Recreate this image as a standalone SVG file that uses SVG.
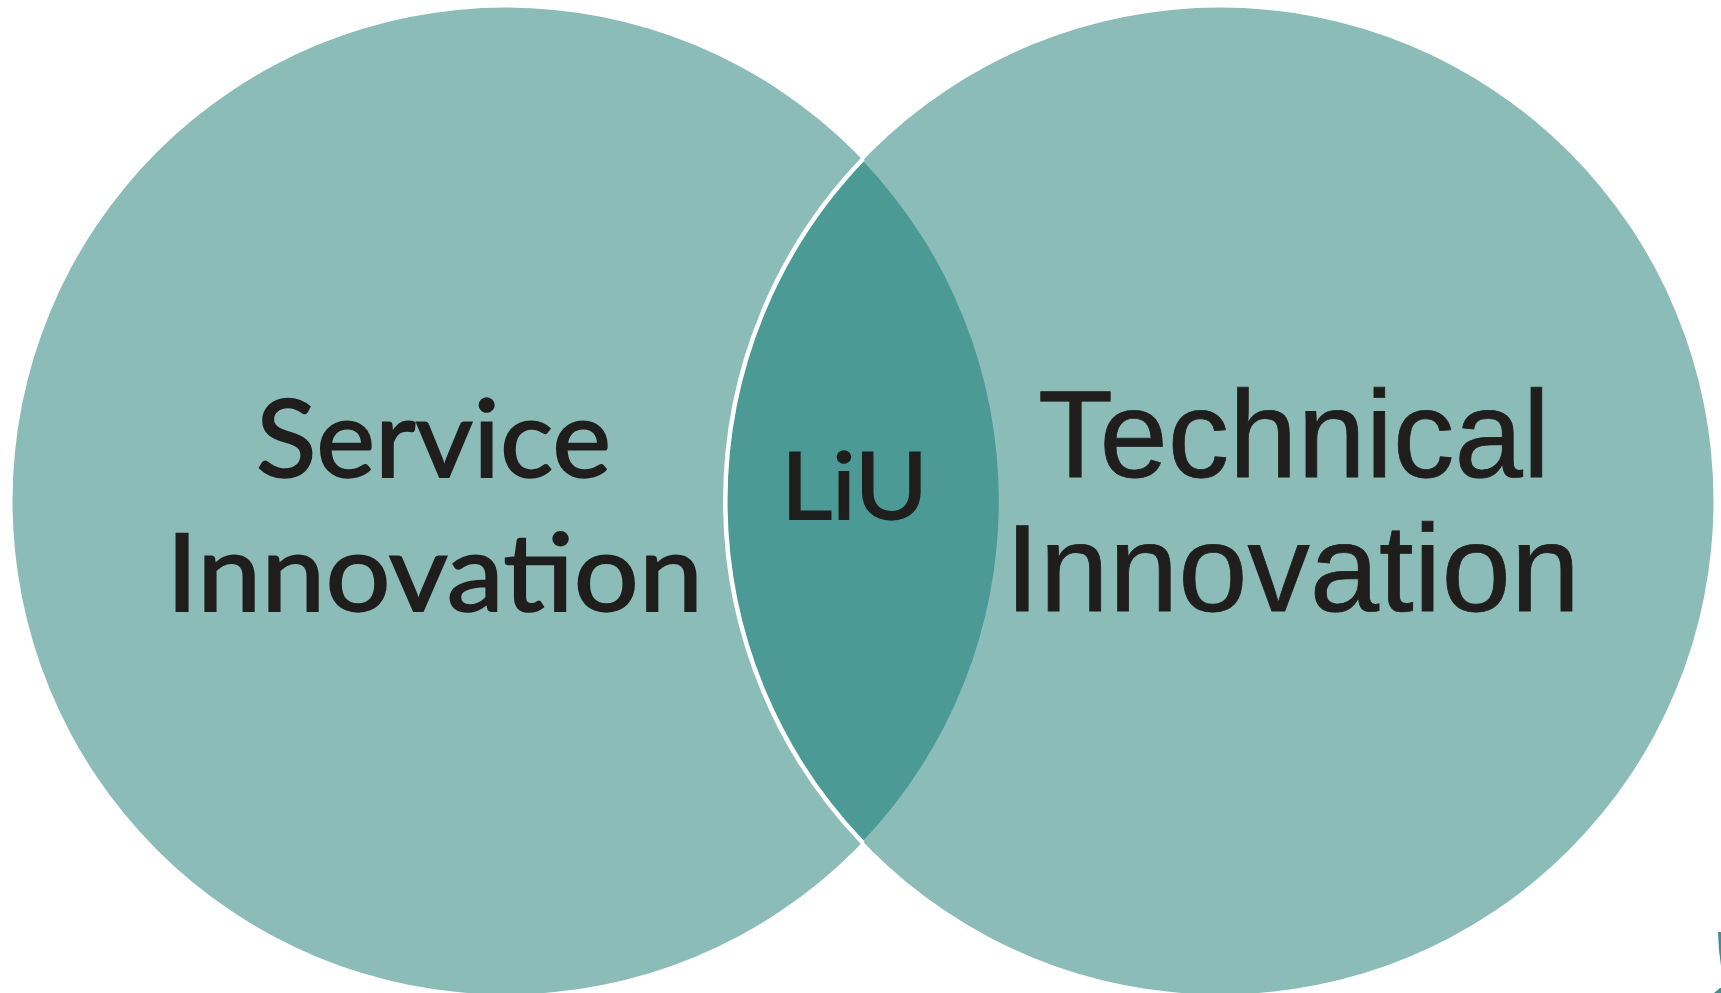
<svg xmlns="http://www.w3.org/2000/svg" width="1721" height="993" viewBox="0 0 1721 993">
<style>
.c{fill:#8bbcb8}
.l{fill:#4b9a96}
text{fill:#1f1e1c;stroke:#1f1e1c;text-rendering:geometricPrecision}
.cal{font-family:"Lato","Carlito","Noto Sans",sans-serif;stroke-width:1.800}
.ar{font-family:"Liberation Sans",Arial,sans-serif;stroke-width:.8}
.frag{fill:#3f8f95}
</style>
<rect width="1721" height="993" fill="#ffffff"/>
<g id="service-innovation">
<circle class="c" cx="506" cy="501" r="493.500"/>
<text class="cal" x="256" y="477" font-size="108" textLength="355" lengthAdjust="spacingAndGlyphs">Service</text>
<text class="cal" x="166" y="611" font-size="108" textLength="537" lengthAdjust="spacingAndGlyphs">Innovation</text>
</g>
<g id="technical-innovation">
<circle class="c" cx="1220" cy="501" r="493.500"/>
<text class="ar" x="1038" y="477" font-size="124" textLength="512" lengthAdjust="spacingAndGlyphs">Technical</text>
<text class="ar" x="1005" y="611" font-size="124" textLength="575" lengthAdjust="spacingAndGlyphs">Innovation</text>
</g>
<g id="liu">
<path class="l" d="M863 161A493.500 493.500 0 0 1 863 841A493.500 493.500 0 0 1 863 161Z"/>
<path d="M863 159A493.500 493.500 0 0 0 863 843" fill="none" stroke="#fff" stroke-width="4.500"/>
<text class="cal" x="781" y="519" font-size="93" textLength="147" lengthAdjust="spacingAndGlyphs">LiU</text>
</g>
<path class="frag" d="M1718 932L1721 932L1721 966L1719 950Z"/>
<path class="frag" d="M1714 993L1720 988L1721 988L1721 993Z"/>
</svg>
